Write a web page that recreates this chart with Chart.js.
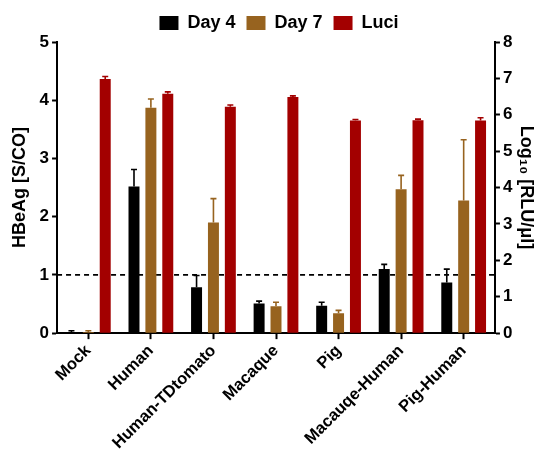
<!DOCTYPE html>
<html>
<head>
<meta charset="utf-8">
<script src="https://cdn.jsdelivr.net/npm/chart.js@4/dist/chart.umd.min.js"></script>
<style>
  html, body { margin: 0; padding: 0; background: #ffffff; }
  #wrap { width: 552px; height: 455px; }
</style>
</head>
<body>
<div id="wrap"><canvas id="grafico"></canvas></div>
<script>
// categorias e valores
const categories = ["Mock", "Human", "Human-TDtomato", "Macaque", "Pig", "Macauqe-Human", "Pig-Human"];
const day4 = [0.02, 2.52, 0.79, 0.51, 0.47, 1.10, 0.87];
const day4Err = [0.02, 0.29, 0.20, 0.04, 0.06, 0.08, 0.23];
const day7 = [0.02, 3.87, 1.90, 0.46, 0.34, 2.47, 2.28];
const day7Err = [0.02, 0.15, 0.41, 0.07, 0.05, 0.24, 1.04];
const luci = [6.98, 6.58, 6.22, 6.49, 5.84, 5.85, 5.84];
const luciErr = [0.07, 0.05, 0.05, 0.03, 0.03, 0.03, 0.08];
const leftTicks = [0, 1, 2, 3, 4, 5];
const rightTicks = [0, 1, 2, 3, 4, 5, 6, 7, 8];
const cutoff = 1;

const COLORS = { day4: "#000000", day7: "#97631f", luci: "#a30000" };
const FONT = "'Liberation Sans', Arial, sans-serif";

// Barras de erro (só para cima, com "cap")
const errorBars = {
  id: "errorBars",
  afterDatasetsDraw(chart) {
    const ctx = chart.ctx;
    chart.data.datasets.forEach((ds, i) => {
      const meta = chart.getDatasetMeta(i);
      const scale = chart.scales[ds.yAxisID];
      meta.data.forEach((bar, j) => {
        const top = scale.getPixelForValue(ds.data[j] + ds.errors[j]);
        ctx.save();
        ctx.strokeStyle = ds.backgroundColor;
        ctx.lineWidth = 1.6;
        ctx.beginPath();
        ctx.moveTo(bar.x, bar.y);
        ctx.lineTo(bar.x, top);
        ctx.moveTo(bar.x - 3, top);
        ctx.lineTo(bar.x + 3, top);
        ctx.stroke();
        ctx.restore();
      });
    });
  }
};

// Linha tracejada do cut-off
const cutoffLine = {
  id: "cutoffLine",
  beforeDatasetsDraw(chart) {
    const ctx = chart.ctx;
    const area = chart.chartArea;
    const y = chart.scales.y.getPixelForValue(cutoff);
    ctx.save();
    ctx.strokeStyle = "#000000";
    ctx.lineWidth = 1.6;
    ctx.setLineDash([5, 4]);
    ctx.beginPath();
    ctx.moveTo(area.left, y);
    ctx.lineTo(area.right, y);
    ctx.stroke();
    ctx.restore();
  }
};

const axisTicks = size => ({ color: "#000000", font: { family: FONT, size: size, weight: "bold" } });

new Chart(document.getElementById("grafico"), {
  type: "bar",
  data: {
    labels: categories,
    datasets: [
      { label: "Day 4", data: day4, errors: day4Err, backgroundColor: COLORS.day4, yAxisID: "y" },
      { label: "Day 7", data: day7, errors: day7Err, backgroundColor: COLORS.day7, yAxisID: "y" },
      { label: "Luci", data: luci, errors: luciErr, backgroundColor: COLORS.luci, yAxisID: "y2" }
    ]
  },
  options: {
    responsive: true,
    maintainAspectRatio: false,
    animation: false,
    categoryPercentage: 0.81,
    barPercentage: 0.65,
    layout: { padding: { top: 3, left: 9, right: 3, bottom: 0 } },
    plugins: {
      legend: {
        position: "top",
        labels: {
          color: "#000000",
          boxWidth: 19,
          boxHeight: 14,
          padding: 11,
          font: { family: FONT, size: 18, weight: "bold" }
        }
      },
      tooltip: { enabled: false }
    },
    scales: {
      x: {
        ticks: { ...axisTicks(16.5), minRotation: 45, maxRotation: 45, autoSkip: false, padding: 2 },
        grid: { offset: false, drawOnChartArea: false, drawTicks: true, tickLength: 6, tickColor: "#000000", tickWidth: 2 },
        border: { color: "#000000", width: 2 }
      },
      y: {
        position: "left",
        min: 0,
        max: 5,
        afterBuildTicks: axis => { axis.ticks = leftTicks.map(v => ({ value: v })); },
        ticks: { ...axisTicks(17), padding: 3 },
        grid: { drawOnChartArea: false, drawTicks: true, tickLength: 5, tickColor: "#000000", tickWidth: 2 },
        border: { color: "#000000", width: 2 },
        title: { display: true, text: "HBeAg [S/CO]", color: "#000000", font: { family: FONT, size: 18, weight: "bold" }, padding: { top: 0, bottom: 6 } }
      },
      y2: {
        position: "right",
        min: 0,
        max: 8,
        afterBuildTicks: axis => { axis.ticks = rightTicks.map(v => ({ value: v })); },
        ticks: { ...axisTicks(17), padding: 3 },
        grid: { drawOnChartArea: false, drawTicks: true, tickLength: 5, tickColor: "#000000", tickWidth: 2 },
        border: { color: "#000000", width: 2 },
        title: { display: true, text: "Log₁₀ [RLU/μl]", color: "#000000", font: { family: FONT, size: 18, weight: "bold" }, padding: { top: 12, bottom: 0 } }
      }
    }
  },
  plugins: [cutoffLine, errorBars]
});
</script>
</body>
</html>
